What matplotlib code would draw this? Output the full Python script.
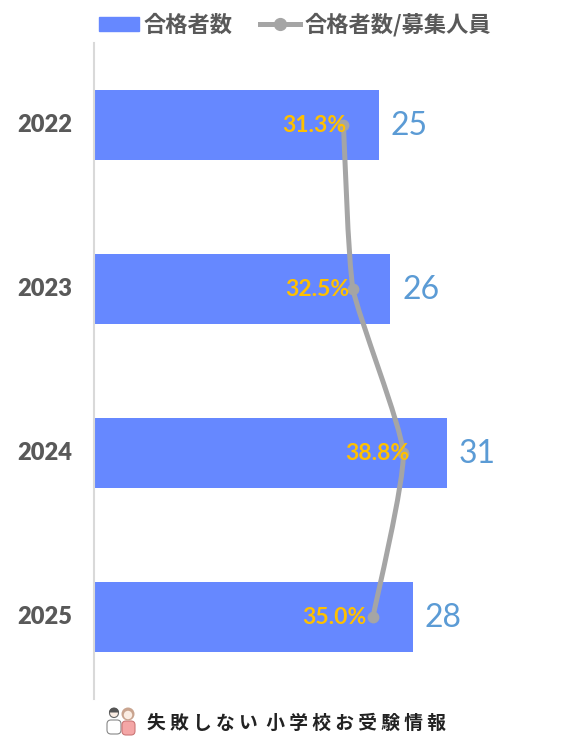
import matplotlib
matplotlib.use("Agg")
import matplotlib.pyplot as plt
import matplotlib.patches as mpatches
from matplotlib.lines import Line2D
from matplotlib.path import Path
import numpy as np

# Data
YEARS = ["2022", "2023", "2024", "2025"]
PASSED = [25, 26, 31, 28]
RATIO = [31.3, 32.5, 38.8, 35.0]
RATIO_LABELS = ["31.3%", "32.5%", "38.8%", "35.0%"]
LEGEND_LABELS = ["合格者数", "合格者数/募集人員"]
FOOTER = "失 敗 し な い  小 学 校 お 受 験 情 報"

# Config
W, H = 577, 751
BLUE = "#6688FF"
GRAY = "#A5A5A5"
TEXT = "#595959"
CJK = ["Noto Sans CJK JP", "DejaVu Sans"]
TENSION = 12
LABEL_SHIFT = [3, -4, 6, -6]  # labels were dragged by hand in the original


def px_rect(x0, y0, x1, y1):
    return [x0 / W, 1 - y1 / H, (x1 - x0) / W, (y1 - y0) / H]


def smooth_path(xs, ys):
    # same kind of smoothing as a spreadsheet line chart, a bit tighter
    xs = np.array(xs, dtype=float)
    ys = np.array(ys, dtype=float)
    verts = [(xs[0], ys[0])]
    codes = [Path.MOVETO]
    n = len(xs)
    for i in range(n - 1):
        x_prev, y_prev = (xs[i - 1], ys[i - 1]) if i > 0 else (xs[i], ys[i])
        x_next, y_next = (xs[i + 2], ys[i + 2]) if i + 2 < n else (xs[i + 1], ys[i + 1])
        verts.append((xs[i] + (xs[i + 1] - x_prev) / TENSION, ys[i] + (ys[i + 1] - y_prev) / TENSION))
        verts.append((xs[i + 1] - (x_next - xs[i]) / TENSION, ys[i + 1] - (y_next - ys[i]) / TENSION))
        verts.append((xs[i + 1], ys[i + 1]))
        codes += [Path.CURVE4] * 3
    return Path(verts, codes)


fig = plt.figure(figsize=(W / 100, H / 100), dpi=100)
ax = fig.add_axes(px_rect(94, 43, 560, 699))
ax.set_xlim(0, (560 - 94) / 11.39)
ax.set_ylim(3.5, -0.5)

y = np.arange(len(YEARS))
ax.barh(y, PASSED, height=70 / 164, color=BLUE, zorder=1)
for yi, v in zip(y, PASSED):
    ax.annotate(str(v), (v, yi), xytext=(12, -1), textcoords="offset pixels", ha="left", va="center",
                fontsize=23, color="#5B9BD5", family="Lato")

# ratio line on its own x scale
ax2 = ax.twiny()
ax2.set_xlim(0, (560 - 94) / 7.97)
ax2.set_ylim(3.5, -0.5)
ax2.add_patch(mpatches.PathPatch(smooth_path(RATIO, y), fill=False, edgecolor=GRAY, lw=3.6,
                                 capstyle="round", zorder=3))
ax2.plot(RATIO, y, ls="none", marker="o", ms=7.5, color=GRAY, zorder=4)
for r, yi, lab, dx in zip(RATIO, y, RATIO_LABELS, LABEL_SHIFT):
    ax2.annotate(lab, (r, yi), xytext=(dx, 0), textcoords="offset pixels", ha="right", va="center",
                 fontsize=16.5, color="#FFC000", family="Lato", fontweight="bold", zorder=5)

for a in (ax, ax2):
    a.set_xticks([])
    for s in a.spines.values():
        s.set_visible(False)
ax.spines["left"].set_visible(True)
ax.spines["left"].set_color("#D9D9D9")
ax.spines["left"].set_linewidth(1.5)
ax.set_yticks(y, YEARS)
ax.tick_params(axis="y", length=0, pad=16, labelsize=17, labelcolor=TEXT)
for t in ax.get_yticklabels():
    t.set_family("Lato")
    t.set_fontweight("heavy")
    t.set_verticalalignment("center")

handles = [mpatches.Patch(color=BLUE), Line2D([], [], color=GRAY, lw=3.6, marker="o", ms=8.5)]
leg = fig.legend(handles, LEGEND_LABELS, loc="center", bbox_to_anchor=(295 / W, 1 - 25 / H),
                 ncol=2, frameon=False, handlelength=1.8, handleheight=0.6, handletextpad=0.2,
                 columnspacing=1.25, prop={"family": CJK, "size": 16, "weight": "bold"})
for t in leg.get_texts():
    t.set_color(TEXT)

fig.text(147 / W, 1 - 723 / H, FOOTER, ha="left", va="center", fontsize=13.5, fontweight="bold",
         family=CJK, color="#222222")

# small couple icon next to the footer
icon = fig.add_axes(px_rect(105, 706, 137, 736))
icon.set_xlim(0, 32)
icon.set_ylim(30, 0)
icon.axis("off")
icon.add_patch(mpatches.FancyBboxPatch((2, 14), 14, 14, boxstyle="round,pad=0,rounding_size=4",
                                       fc="white", ec="#888888", lw=0.8))
icon.add_patch(mpatches.Circle((9, 7), 4.5, fc="#FBEDE3", ec="#666666", lw=0.8))
icon.add_patch(mpatches.Wedge((9, 6.5), 5, 180, 360, fc="#555555", ec="none"))
icon.add_patch(mpatches.FancyBboxPatch((17, 15), 13, 14, boxstyle="round,pad=0,rounding_size=4",
                                       fc="#F4A6A6", ec="#CC7777", lw=0.8))
icon.add_patch(mpatches.Circle((23, 8), 6.5, fc="#C9A48F", ec="none"))
icon.add_patch(mpatches.Circle((23, 9), 4.2, fc="#FBEDE3", ec="none"))

fig.savefig("out.png", dpi=100)
